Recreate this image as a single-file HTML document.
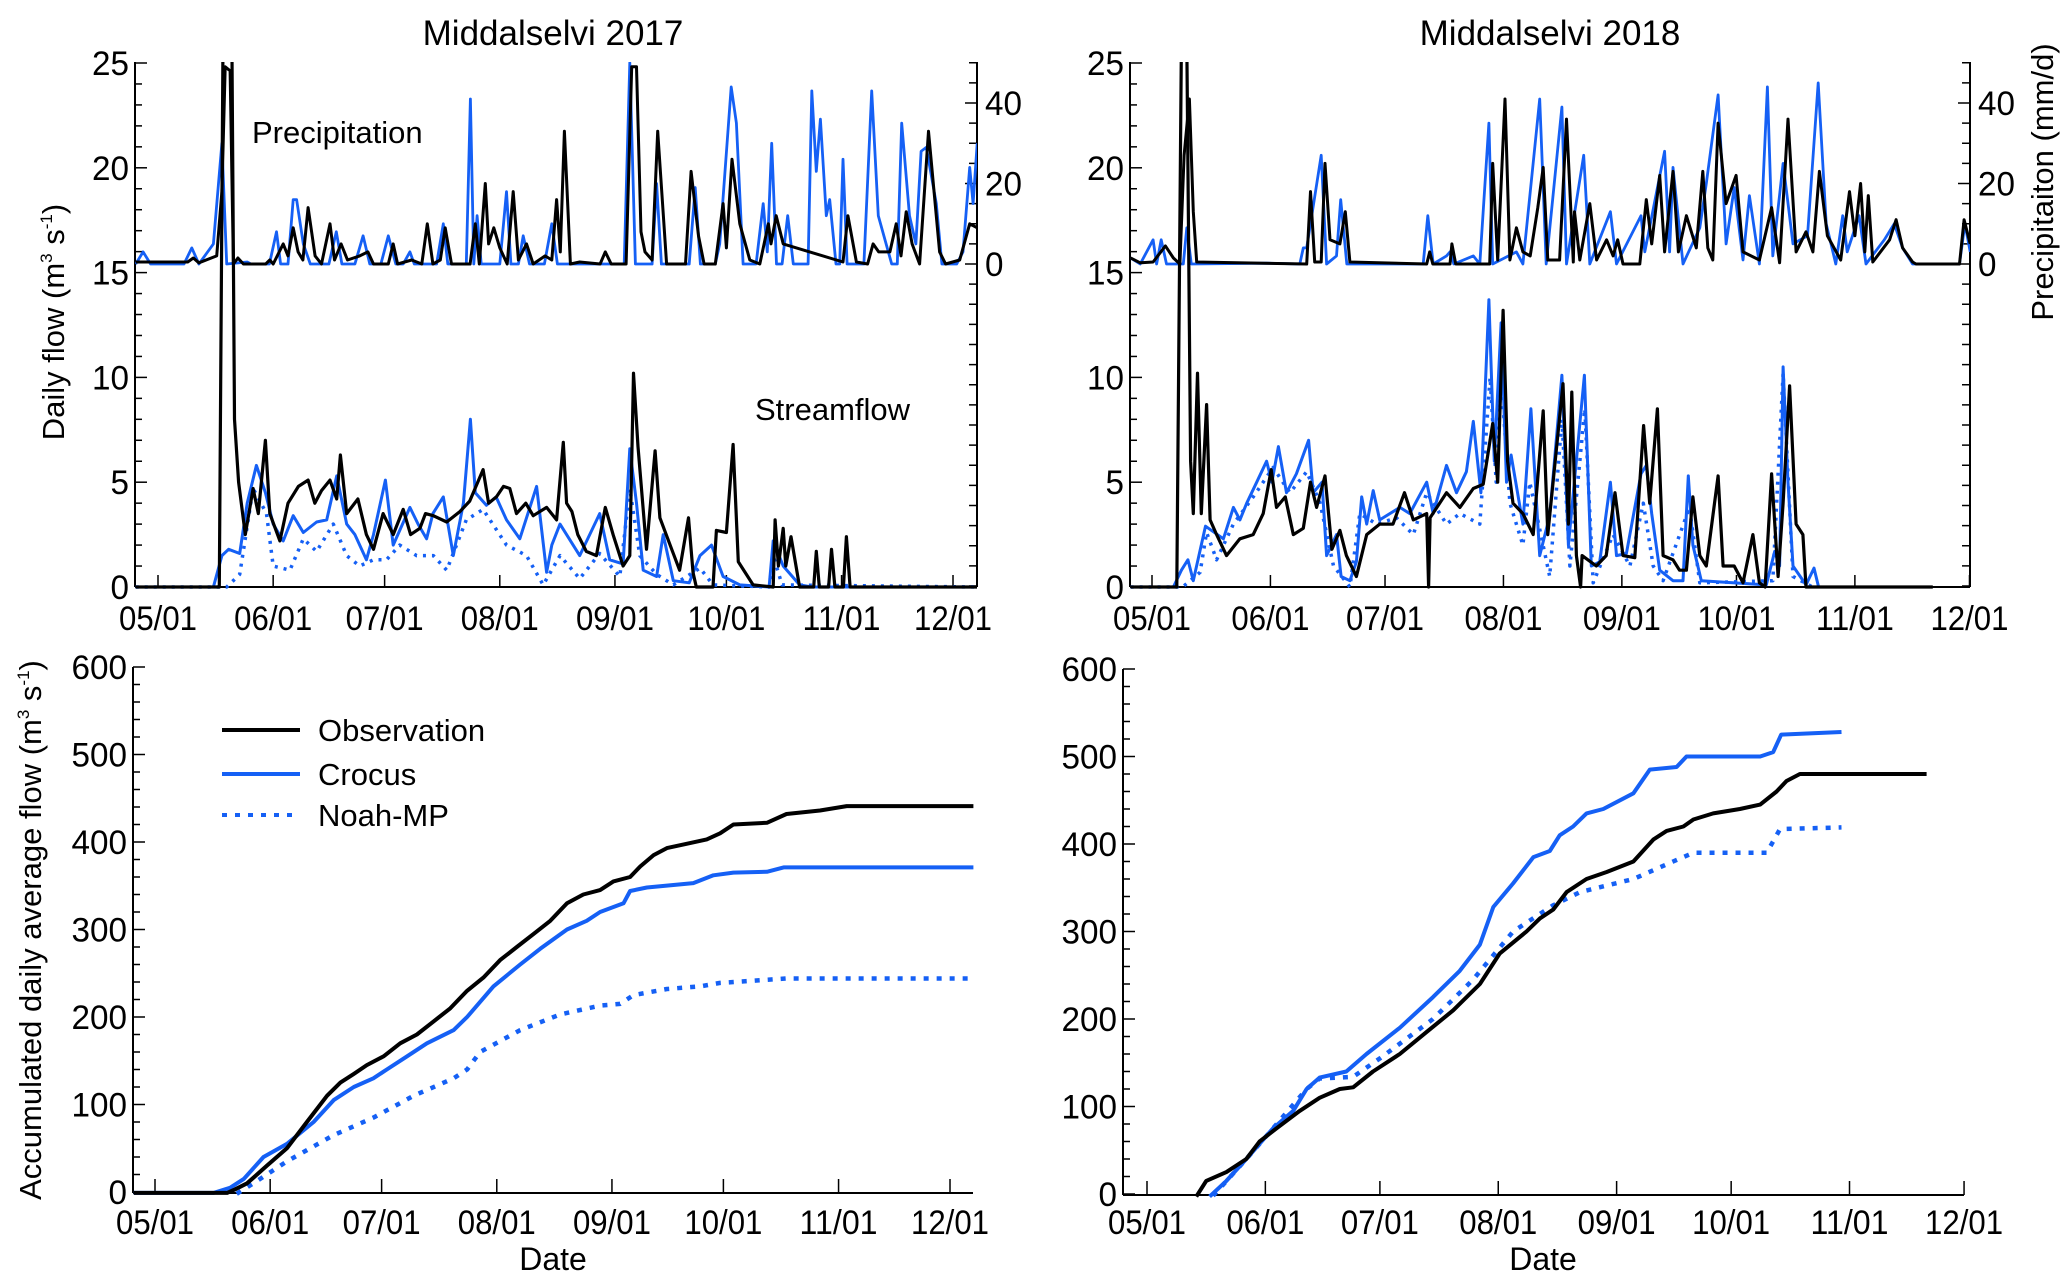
<!DOCTYPE html>
<html><head><meta charset="utf-8"><style>
html,body{margin:0;padding:0;background:#fff;}
svg{display:block;}
.tk{font-family:"Liberation Sans Narrow","Liberation Sans",sans-serif;font-size:34px;fill:#000;}
.lb{font-family:"Liberation Sans",sans-serif;fill:#000;}
</style></head><body>
<svg id="chart" width="2067" height="1282" viewBox="0 0 2067 1282" xmlns="http://www.w3.org/2000/svg">
<defs>
<clipPath id="clipTL"><rect x="135" y="62" width="842" height="530"/></clipPath>
<clipPath id="clipTR"><rect x="1130" y="62" width="840" height="530"/></clipPath>
<clipPath id="clipBL"><rect x="133" y="660" width="845" height="540"/></clipPath>
<clipPath id="clipBR"><rect x="1123" y="660" width="845" height="540"/></clipPath>
</defs>
<text class="lb" x="553" y="45" font-size="35" text-anchor="middle">Middalselvi 2017</text>
<text class="lb" x="1550" y="45" font-size="35" text-anchor="middle">Middalselvi 2018</text>
<text class="lb" font-size="31" text-anchor="middle" transform="translate(64,322) rotate(-90)">Daily flow (m<tspan font-size="17" dy="-12">3</tspan><tspan dy="12"> s</tspan><tspan font-size="17" dy="-12">-1</tspan><tspan dy="12">)</tspan></text>
<text class="lb" font-size="31" text-anchor="middle" transform="translate(41,930) rotate(-90)">Accumulated daily average flow (m<tspan font-size="17" dy="-12">3</tspan><tspan dy="12"> s</tspan><tspan font-size="17" dy="-12">-1</tspan><tspan dy="12">)</tspan></text>
<text class="lb" font-size="31" text-anchor="middle" transform="translate(2053,182) rotate(-90)">Precipitaiton (mm/d)</text>
<text class="lb" x="252" y="143" font-size="31">Precipitation</text>
<text class="lb" x="755" y="420" font-size="31">Streamflow</text>
<text class="lb" x="553" y="1270" font-size="32" text-anchor="middle">Date</text>
<text class="lb" x="1543" y="1270" font-size="32" text-anchor="middle">Date</text>
<g>
<line x1="222" y1="730" x2="300" y2="730" stroke="#000" stroke-width="4"/>
<text class="lb" x="318" y="741" font-size="31">Observation</text>
<line x1="222" y1="774" x2="300" y2="774" stroke="#1560f5" stroke-width="4"/>
<text class="lb" x="318" y="785" font-size="31">Crocus</text>
<line x1="222" y1="815" x2="300" y2="815" stroke="#1560f5" stroke-width="4" stroke-dasharray="5 8"/>
<text class="lb" x="318" y="826" font-size="31">Noah-MP</text>
</g>
</svg>
<script>
// ---- data (day = days since May 1) ----
const monthLabels = ["05/01","06/01","07/01","08/01","09/01","10/01","11/01","12/01"];
const monthDays = [0,31,61,92,123,153,184,214];
const flowTicks = [0,5,10,15,20,25];
const precipTicks = [0,20,40];
const accTicks = [0,100,200,300,400,500,600];

const precipObs2017 = [[-6,0.5],[8,0.5],[9.5,1.5],[11,0.3],[15.8,2],[17.2,18],[18.1,49],[19.4,48],[20.3,0],[21.5,1.5],[23,0],[29,0],[30.1,1],[31,0],[33.7,5],[35,2],[36.4,9],[37.7,3],[39,1],[40.4,14],[42.3,2],[44,0],[46.3,10],[47.5,1],[49.3,5],[51,1],[54.3,2],[56.5,3],[58,0],[62,0],[63.3,5],[64.5,0],[68.3,1],[71,0],[72.5,10],[74,0],[76,1],[77.3,9],[79,0],[84,0],[85.4,10],[86.5,0],[88.1,20],[89,5],[90.4,9],[92,4],[94,0],[95.6,18],[97,1],[99.2,5],[101,0],[104.2,2],[106,1],[107.3,16],[108.3,3],[109.4,33],[111,0],[113.5,0.5],[119,0],[120.4,3],[122,0],[126,0],[127.5,49],[128.8,49],[130,8],[131.1,3],[133,1],[134.5,33],[136.9,0],[142,0],[143.5,23],[145.5,7],[147,0],[150,0],[152.1,15],[153,4],[154.5,26],[156.6,10],[159.3,1],[162,0],[164.3,10],[165,5],[166.4,12],[168.3,5],[184.4,0.5],[185.7,12],[188,0.5],[191,0],[192.5,5],[194,3],[197,3],[198.7,10],[200,2],[201.4,13],[203,5],[205,0],[207.4,33],[210.4,3],[212,0],[215.8,1],[218.5,10],[220.5,9]];
const precipSim2017 = [[-6,0],[-4,3],[-2,0],[7,0],[9.1,4],[11,0],[14.9,5],[17.2,30],[18.5,0],[24,0.5],[25,0],[30,0],[31.9,8],[33,0],[35,0],[36.4,16],[37.3,16],[39.1,5],[41,0],[46,0],[48,8],[49.5,0],[53,0],[55.2,7],[57,0],[60,0],[62,7],[64,0],[66,0],[67.8,3],[69,0],[75,0],[76.8,10],[78,0],[83,0],[84.1,41],[85,0],[85.9,12],[87,0],[92,0],[93.8,18],[95,0],[97,0],[98.3,7],[100,0],[104,0],[106,10],[107.5,0],[125.5,0],[127,50],[128.5,0],[133,0],[134.2,20],[135.5,0],[143,0],[144.6,19],[146,0],[150,0],[151.2,5],[154.3,44],[155.7,35],[157.5,0],[161,0],[162.9,15],[164,3],[165.2,30],[166.5,0],[168,0],[169.5,12],[171,0],[175,0],[176,43],[177.2,23],[178.3,36],[179.9,12],[180.8,16],[182.5,0],[183.5,0],[184.4,26],[185.5,0],[190,0],[192.1,43],[193.9,12],[197.5,0],[199,0],[200.2,35],[202.3,12],[204,5],[205.4,28],[206.8,29],[209.5,15],[211,0],[215,0],[216.7,3],[218.5,24],[219.4,15],[220.5,30]];
const flowObs2017 = [[-6,0],[16.5,0],[17.5,26],[19.9,26],[20.6,8],[21.7,5],[23.5,2.5],[25.6,4.7],[27,3.5],[28.9,7],[30.1,3.5],[32.8,2.2],[35,4],[37.8,4.8],[40.4,5.1],[42.2,4],[44,4.6],[46.3,5.1],[48.1,4.2],[49.1,6.3],[50.8,3.5],[53.8,4.2],[56.1,2.5],[58,1.8],[60.6,3.5],[63.3,2.5],[66,3.7],[68,2.5],[70.5,2.8],[72,3.5],[74.1,3.4],[77.7,3.1],[81.3,3.6],[83.9,4.1],[87.5,5.6],[89,4],[91.1,4.3],[93,4.8],[94.7,4.7],[96.5,3.5],[99,4],[101,3.4],[104.6,3.8],[107.3,3.2],[109.1,6.9],[110,4],[111.4,3.6],[113,2.5],[115.3,1.7],[118,1.5],[120.4,3.8],[122.5,2.5],[125.2,1],[127,1.5],[128,10.2],[129.2,6.7],[131.5,1.8],[133.8,6.5],[135.1,3.3],[138.7,1.6],[140.4,0.8],[142.8,3.3],[144,0.7],[144.9,0],[149.4,0],[150.3,2.7],[153,2.6],[154.8,6.8],[156.2,1.2],[160.2,0.1],[165.6,0],[166.1,3.2],[167,1],[168.3,2.8],[169,1],[170.4,2.4],[172.7,0],[176.5,0],[177.2,1.7],[178,0],[180.5,0],[181.3,1.8],[182.2,0],[184.5,0],[185.3,2.4],[186.3,0],[220.5,0]];
const flowCrocus2017 = [[-6,0],[14.9,0],[17.2,1.5],[19,1.8],[22,1.6],[24,4],[26.5,5.8],[28.9,4.5],[31,3],[33.7,2.2],[36.4,3.4],[39.1,2.6],[42.7,3.1],[45.4,3.2],[48.1,5.3],[50.8,3],[53,2.5],[56.1,1.3],[58,2.5],[61.2,5.1],[63.3,2],[67.8,3.8],[70,3],[72.3,2.3],[74,3.5],[76.8,4.3],[79.5,1.5],[82.2,4],[84.1,8],[85.4,4.5],[88.4,3.9],[91,4.3],[93.8,3.2],[97.4,2.3],[101.9,4.8],[104.6,0.7],[106,2],[108.2,3],[113.5,1.5],[118.9,3.5],[121.6,1.3],[125.2,1.1],[127,6.6],[128.8,4],[130.6,0.8],[134.2,0.5],[136,2.5],[138.7,0.3],[143,0.2],[145.9,1.5],[149,2],[152.1,0.5],[156.6,0.1],[164.5,0],[165.6,2.2],[168.3,1],[172.7,0.1],[176,0],[220.5,0]];
const flowNoah2017 = [[-6,0],[18.5,0],[22,0.6],[25.6,4.7],[29.2,3.5],[31,1],[35.5,0.8],[39.1,2.3],[42.7,1.7],[47.2,3],[50.8,1.5],[54.3,1],[58,1.3],[61.5,1.3],[65.1,2],[69.6,1.5],[74.1,1.5],[77.7,0.8],[83,3.2],[87.5,3.7],[93.8,2],[99.2,1.5],[103.7,0.1],[108.2,1.5],[113.5,0.4],[118.9,1.6],[124.3,0.5],[127,4.7],[129.7,1.5],[134.2,0.6],[138.7,0.1],[145.9,0.9],[149.4,0.1],[164.5,0],[165.6,1.5],[168,0.1],[220.5,0]];

const precipObs2018 = [[-5.6,1.5],[-3.1,0.3],[0.3,0.5],[3.5,4.5],[5.6,1.5],[7.3,0],[8.4,27],[9.8,41],[10.8,13],[11.7,0.5],[40.5,0],[41.5,18],[42.6,0.5],[44.3,0.5],[45.3,25],[46.6,6],[49.2,5],[50.6,13],[51.8,0.5],[71.9,0],[72.7,3],[73.5,0],[78,0],[78.5,5],[79.5,0],[88.4,0],[89.2,25],[90.5,1],[92.4,41],[93.7,1],[95.4,9],[97.1,3],[99,2],[101,14],[102.4,24],[103.6,1],[106.7,1],[108.5,36],[110.3,0.5],[110.6,13],[112,1],[114.6,15],[116.4,1],[119,6],[120.7,2],[121.9,6],[123.3,0],[127.7,0],[129.4,16],[130.8,5],[132.9,22],[134.2,3],[136.4,23],[137.8,3],[139.9,12],[142.5,4],[144.2,23],[145.5,4],[146.8,1],[148.2,35],[150.3,15],[152.9,22],[154.7,3],[159,1],[162.2,14],[164.3,0.3],[166.5,36],[168.6,3],[171.2,8],[173,3],[174.7,23],[176.8,7],[180.3,1],[182.6,18],[184,7],[185.5,20],[186.6,3],[187.5,17],[188.7,0.5],[193.1,6],[194.8,11],[196.5,4],[199.1,0.5],[200,0],[211.4,0],[212.6,11],[214.2,5]];
const precipSim2018 = [[-5.6,1.5],[-3.1,0],[0.3,6],[1.2,0],[2.4,6],[3.8,0],[8.2,0],[9.1,9],[10.3,0],[30,0.2],[38.7,0],[39.6,4],[40.5,4],[44.3,27],[45.7,0],[48.3,2],[49.4,16],[51,0],[71,0],[72.2,12],[73.6,0],[77.1,2],[78,3],[79,0],[84.1,2],[85.8,0],[88.2,35],[89.2,0],[95.4,3],[97.1,0],[101.5,41],[103.2,0],[107.3,39],[108.5,0],[113,27],[114.6,0],[120,13],[121.6,0],[128,12],[129,3],[134.2,28],[135.5,3],[136.4,24],[139,0],[143.4,9],[145.1,20],[148.2,42],[150.3,5],[152.4,19],[154.7,1],[156.4,17],[159,0],[161.1,44],[162.5,2],[165.2,25],[167.8,5],[171.6,7],[174.4,45],[176.5,10],[179,0],[180.8,12],[182,3],[185.1,12],[186.9,0],[191.7,6],[194.3,10],[196.5,4],[199.1,0],[211.4,0],[212.8,10],[214.2,3]];
const flowObs2018 = [[-5.6,0],[6.5,0],[7.7,26],[9.1,26],[10.1,6],[10.8,3.5],[11.9,10.2],[12.9,3.5],[14.3,8.7],[15.2,3.2],[16.9,2.5],[19.5,1.5],[23,2.3],[26.5,2.5],[29.1,3.5],[31.2,5.6],[32.6,3.8],[34.9,4.3],[37,2.5],[39.6,2.8],[41.5,5],[43.1,3.8],[45.3,5.3],[47.1,1.8],[49.2,2.7],[50.9,1.5],[53.5,0.5],[56.2,2.5],[59.6,3],[63.1,3],[66.1,4.5],[68.4,3.2],[71.9,3.5],[72.4,0],[72.8,3.3],[77.1,4.5],[80.6,3.8],[84.1,4.7],[86.7,4.9],[89.2,7.8],[90.5,5],[91.9,13.2],[93.1,6],[94.5,4],[97.1,3.5],[99.8,2.5],[102.4,8.4],[103.6,2.5],[107.6,9.7],[109,3],[109.9,9.3],[111.1,1.5],[112.2,0],[112.6,1.5],[116.3,1],[118.9,1.5],[121.2,4.5],[123.3,1.5],[126.4,1.4],[128.7,7.7],[130.3,4],[132.3,8.5],[133.8,1.5],[136.4,1.3],[138.1,0.8],[139.9,0.8],[141.6,4.3],[143.4,1.5],[145.1,1],[148.2,5.3],[149.5,1],[152.4,1],[154.7,0.2],[157.3,2.5],[159,0.2],[160.5,0],[162.2,5.4],[163.9,0.5],[165.2,4],[166.9,9.6],[168.6,3],[170.4,2.5],[171.2,0],[204.4,0]];
const flowCrocus2018 = [[-5.6,0],[5.6,0],[7.7,0.8],[9.4,1.3],[10.8,0.3],[14,2.9],[18.7,2.3],[21.3,3.8],[23,3.2],[24.8,4],[27.4,5],[30,6],[31.4,5],[33.1,6.7],[35.2,4.5],[37.8,5.4],[41,7],[42.2,4.5],[44.5,5],[45.7,1.5],[48.3,2.5],[49.5,0.5],[51.8,0.3],[53.5,1.2],[54.9,4.3],[56.2,3],[57.9,4.6],[59.6,3.2],[64.9,3.8],[67.5,3.5],[71.9,5],[73.6,3.5],[77.1,5.8],[79.7,4.5],[82.3,5.5],[84.1,7.9],[86.1,4.5],[88.2,13.7],[89.6,6],[91.4,12.6],[92.8,5],[94,6.3],[97.1,3],[99.2,8.5],[101.5,1.5],[104.1,3.4],[107.3,10.1],[109,2],[113.2,10.1],[115,1],[117.2,1.2],[120,5],[121.6,1.5],[124.2,1.6],[128,5.4],[129.4,5.8],[130.8,3.5],[132.9,0.8],[136.4,0.3],[139,0.3],[140.4,5.3],[141.6,2],[143.8,0.3],[160.8,0.1],[163,1.7],[164.3,1],[165.2,10.5],[166.5,5],[167.8,1],[171.2,0.1],[173.3,0.9],[174.5,0],[181.7,0]];
const flowNoah2018 = [[-5.6,0],[8,0],[12.6,0.7],[14.3,2.6],[16.9,1.3],[21.3,3],[26.5,4.3],[31.7,5.7],[36.1,4.5],[40.5,5.5],[44,4],[47.5,1],[51.8,0],[54.4,3.5],[58.8,3],[64,3.3],[68.4,2.5],[71.9,4.5],[77.1,3],[80.6,3.5],[85.8,3],[88.5,10],[90.1,5],[91.4,10],[93.7,4],[97.1,2],[98.9,5],[104.1,0.5],[107.3,8],[109.4,1],[113.3,8.5],[115.5,0.2],[120.7,2.5],[125.1,1],[128.6,4],[131.2,1],[133.8,0.3],[140.7,3.8],[143.4,0.2],[162.5,0.3],[165.2,10.2],[167.8,0.5],[172.9,0]];

const accObs2017 = [[-5.7,-1],[19.4,-1],[21.5,3],[24.8,10],[30.1,30],[35.5,50],[40.9,80],[46.3,110],[49.9,125],[53.5,135],[57,145],[61.5,155],[66,170],[70.5,180],[75,195],[79.5,210],[84,230],[88.4,245],[92.9,265],[97.4,280],[101.9,295],[106.4,310],[110.9,330],[115.3,340],[119.8,345],[123.4,355],[127.9,360],[130.6,372],[134.2,385],[137.8,393],[143.1,398],[148.5,403],[152.1,410],[155.7,420],[164.7,422],[170,432],[179,436],[186.2,441],[220.3,441]];
const accCrocus2017 = [[-5.7,-1],[15.8,-1],[20.3,5],[23.9,15],[29.2,40],[35.5,55],[42.7,80],[48.1,105],[53.5,120],[58.8,130],[62.4,140],[67.8,155],[73.2,170],[80.4,185],[84,200],[91.1,235],[98.3,260],[103.7,278],[110.9,300],[116.2,310],[119.8,320],[126.1,330],[127.9,344],[132.4,348],[144.9,353],[150.3,362],[155.7,365],[164.7,366],[169.2,371],[220.3,371]];
const accNoah2017 = [[22,-2],[26.5,10],[35.5,35],[48.1,65],[58.8,85],[69.6,110],[80.4,130],[84,140],[87.5,160],[98.3,185],[109.1,203],[119.8,213],[125.2,215],[128.8,225],[137.8,232],[146.7,235],[152.1,239],[170,244],[220.3,244]];
const accObs2018 = [[12.9,-3],[15.5,15],[20.8,25],[26,40],[29.5,60],[33.9,75],[40,95],[45.2,110],[50.5,120],[54,122],[59.2,140],[66.2,160],[73.2,185],[80.2,210],[87.2,240],[92.4,275],[99.4,300],[102.9,315],[106.4,325],[109.9,345],[115.1,360],[120.4,368],[127.4,380],[132.6,405],[136.1,415],[140.5,420],[143.1,428],[148.3,435],[155.3,440],[160.6,445],[164.9,460],[167.5,472],[171,480],[204.2,480]];
const accCrocus2018 = [[16.4,-3],[20.8,15],[26,40],[33,75],[38.3,95],[41.8,120],[45.2,133],[52.2,140],[57.5,160],[66.2,190],[74.9,225],[81.9,255],[87.2,285],[90.7,328],[95.9,355],[101.2,385],[105.5,392],[108.1,410],[111.6,420],[115.1,435],[119.5,440],[127.4,458],[131.7,485],[138.7,488],[141.3,500],[160.6,500],[164,505],[166.1,525],[181.9,528]];
const accNoah2018 = [[17.3,-2],[26,40],[33,75],[41.8,120],[45.2,132],[54,134],[61,155],[74.9,200],[85.4,245],[95.9,300],[106.4,330],[113.4,345],[127.4,360],[137.8,380],[143.1,390],[162.3,390],[165.8,417],[181.9,419]];

// ---- rendering ----
const NS = "http://www.w3.org/2000/svg";
const svg = document.getElementById("chart");
const BLUE = "#1560f5";
function mk(tag, attrs, parent){
  const e = document.createElementNS(NS, tag);
  for (const k in attrs) e.setAttribute(k, attrs[k]);
  (parent || svg).appendChild(e);
  return e;
}
function linePath(data, xf, yf){
  return data.map((p,i)=>(i?"L":"M")+xf(p[0]).toFixed(1)+","+yf(p[1]).toFixed(1)).join("");
}
function series(data, xf, yf, color, w, dash, clip, name){
  const p = mk("path", {d: linePath(data,xf,yf), fill:"none", stroke:color, "stroke-width":w, "stroke-linejoin":"round", "clip-path":"url(#"+clip+")"});
  if (dash) p.setAttribute("stroke-dasharray", dash);
  
  
}
function tickLabel(x, y, txt, anchor, name){
  const len = txt.indexOf("/")>=0 ? 78 : txt.length*18.5;
  const t = mk("text", {x:x, y:y, "text-anchor":anchor, class:"tk", textLength:len, lengthAdjust:"spacingAndGlyphs"});
  t.textContent = txt;
  
  
}
function seg(x1,y1,x2,y2,w,name){
  const l = mk("line",{x1:x1,y1:y1,x2:x2,y2:y2,stroke:"#000","stroke-width":w});
  
  
}

function topPanel(x0, pxPerDay, left, right, clip, pObs, pSim, fObs, fCro, fNoah, yr){
  const xs = d => x0 + d*pxPerDay;
  const yF = v => 587 - v*20.96;
  const yP = v => 264 - v*4.025;
  const top = 62, bot = 587;
  seg(left, top, left, bot, 2, "left-axis-"+yr);
  seg(right, top, right, bot, 2, "right-axis-"+yr);
  seg(left, bot, right, bot, 2, "x-axis-"+yr);
  for (let v=0; v<=25; v++){
    const major = v%5===0;
    seg(left, yF(v), left+(major?12:7), yF(v), 1.5, "flow-tick-"+yr);
  }
  flowTicks.forEach(v=>tickLabel(left-6, yF(v)+12, String(v), "end", "flow-tick-label-"+yr));
  for (let v=50; yP(v)<=bot; v-=5){
    seg(right, yP(v), right-(v%20===0&&v>=0?12:8), yP(v), 1.5, "precip-tick-"+yr);
  }
  precipTicks.forEach(v=>tickLabel(right+8, yP(v)+12, String(v), "start", "precip-tick-label-"+yr));
  monthDays.forEach((d,i)=>{
    seg(xs(d), bot, xs(d), bot-12, 1.5, "month-tick-"+yr);
    tickLabel(xs(d), 630, monthLabels[i], "middle", "month-label-"+yr);
  });
  series(pSim, xs, yP, BLUE, 2.8, null, clip, "precip-simulated-"+yr);
  series(pObs, xs, yP, "#000", 3, null, clip, "precip-observed-"+yr);
  series(fNoah, xs, yF, BLUE, 3.5, "3 6", clip, "flow-noah-mp-"+yr);
  series(fCro, xs, yF, BLUE, 3, null, clip, "flow-crocus-"+yr);
  series(fObs, xs, yF, "#000", 3.2, null, clip, "flow-observed-"+yr);
}
function bottomPanel(x0, pxPerDay, left, right, y0, clip, aObs, aCro, aNoah, yr){
  const xs = d => x0 + d*pxPerDay;
  const yA = v => y0 - v*0.875;
  const bot = y0+1, top = yA(600);
  seg(left, top, left, bot, 2, "acc-left-axis-"+yr);
  seg(left, bot, right, bot, 2, "acc-x-axis-"+yr);
  for (let v=0; v<=600; v+=20){
    seg(left, yA(v), left+(v%100===0?12:7), yA(v), 1.5, "acc-tick-"+yr);
  }
  accTicks.forEach(v=>tickLabel(left-6, yA(v)+12, String(v), "end", "acc-tick-label-"+yr));
  monthDays.forEach((d,i)=>{
    seg(xs(d), bot, xs(d), bot-14, 1.5, "acc-month-tick-"+yr);
    tickLabel(xs(d), 1234, monthLabels[i], "middle", "acc-month-label-"+yr);
  });
  series(aNoah, xs, yA, BLUE, 4.5, "5 8", clip, "acc-noah-mp-"+yr);
  series(aCro, xs, yA, BLUE, 4, null, clip, "acc-crocus-"+yr);
  series(aObs, xs, yA, "#000", 4, null, clip, "acc-observed-"+yr);
}
topPanel(158, 3.715, 135, 977, "clipTL", precipObs2017, precipSim2017, flowObs2017, flowCrocus2017, flowNoah2017, "2017");
topPanel(1152, 3.82, 1130, 1970, "clipTR", precipObs2018, precipSim2018, flowObs2018, flowCrocus2018, flowNoah2018, "2018");
bottomPanel(155, 3.715, 133, 973, 1192, "clipBL", accObs2017, accCrocus2017, accNoah2017, "2017");
bottomPanel(1147, 3.818, 1123, 1964, 1194, "clipBR", accObs2018, accCrocus2018, accNoah2018, "2018");
</script>
</body></html>
